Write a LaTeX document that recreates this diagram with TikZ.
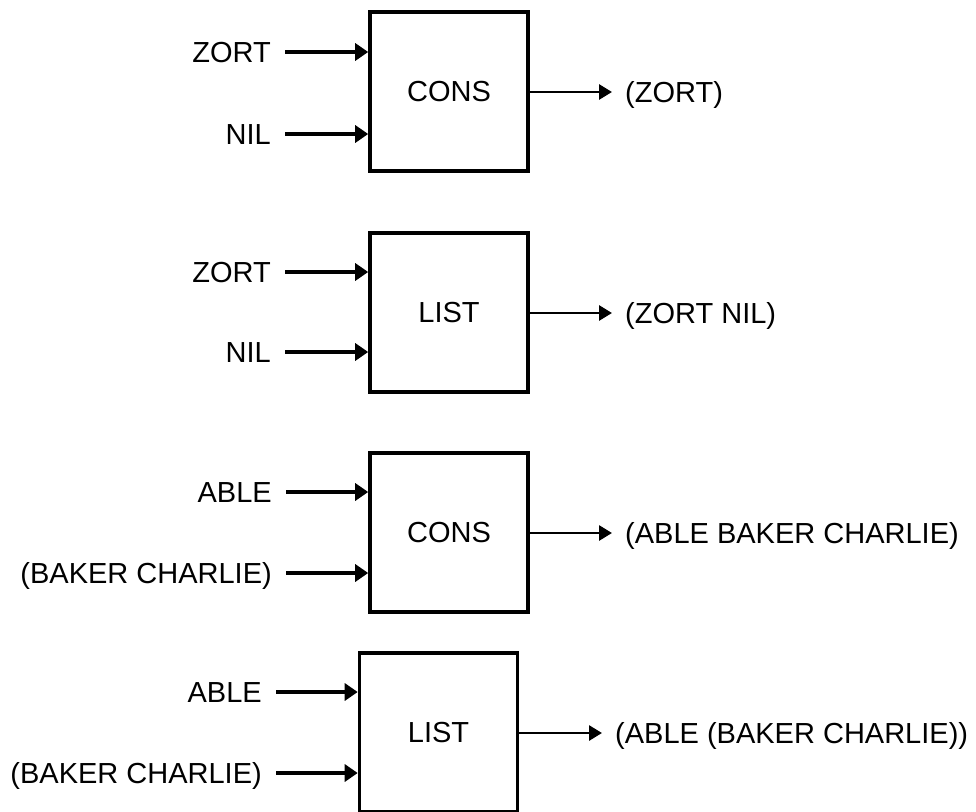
\documentclass[tikz,border=0pt]{standalone}
\usepackage{fontspec}
\setmainfont{Liberation Sans}
\usetikzlibrary{arrows.meta}
\begin{document}
\begin{tikzpicture}[x=1pt,y=-1pt,
  box/.style={draw,line width=3.6pt,minimum width=158pt,minimum height=159pt,inner sep=0pt,font=\fontsize{29}{34}\selectfont},
  lbl/.style={inner sep=0pt,text height=21pt,text depth=0pt,font=\fontsize{29}{34}\selectfont},
  inarrow/.style={line width=3.4pt,-{Triangle[length=13pt,width=17pt]}},
  outarrow/.style={line width=2.8pt,-{Triangle[length=13pt,width=15pt]}}]
\useasboundingbox (0,0) rectangle (976,811);
\clip (0,0) rectangle (976,811);

% boxes
\node[box] (b1) at (449,91.5) {CONS};
\node[box] (b2) at (449,312.5) {LIST};
\node[box] (b3) at (449,532.5) {CONS};
\node[box] (b4) at (438.5,732.5) {LIST};

% input labels
\node[lbl,anchor=east] (i11) at (271,52) {ZORT};
\node[lbl,anchor=east] (i12) at (271,134) {NIL};
\node[lbl,anchor=east] (i21) at (271,272) {ZORT};
\node[lbl,anchor=east] (i22) at (271,352) {NIL};
\node[lbl,anchor=east] (i31) at (272,492) {ABLE};
\node[lbl,anchor=east] (i32) at (272,573) {(BAKER CHARLIE)};
\node[lbl,anchor=east] (i41) at (262,692) {ABLE};
\node[lbl,anchor=east] (i42) at (262,773) {(BAKER CHARLIE)};

% output labels
\node[lbl,anchor=west] (o1) at (625,92) {(ZORT)};
\node[lbl,anchor=west] (o2) at (625,313) {(ZORT NIL)};
\node[lbl,anchor=west] (o3) at (625,533) {(ABLE BAKER CHARLIE)};
\node[lbl,anchor=west] (o4) at (615,733) {(ABLE (BAKER CHARLIE))};

% input arrows
\foreach \i/\b in {i11/b1,i12/b1,i21/b2,i22/b2,i31/b3,i32/b3,i41/b4,i42/b4}
  \draw[inarrow] ([xshift=14pt]\i.east) -- (\i.east -| \b.west);

% output arrows
\foreach \b/\o in {b1/o1,b2/o2,b3/o3,b4/o4}
  \draw[outarrow] (\b.east |- \o.west) -- ([xshift=-13pt]\o.west);
\end{tikzpicture}
\end{document}
